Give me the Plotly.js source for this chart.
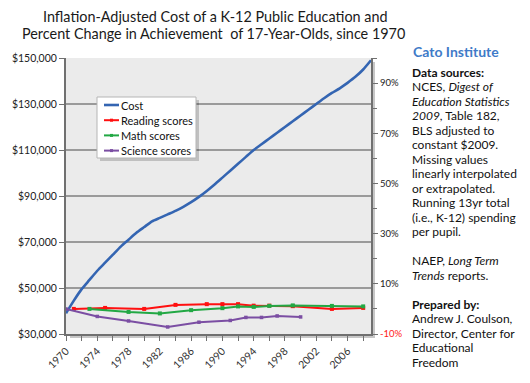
<!DOCTYPE html>
<html>
<head>
<meta charset="utf-8">
<script src="https://cdn.plot.ly/plotly-3.0.1.min.js"></script>
<style>html,body{margin:0;padding:0;background:#fff;}#chart{width:530px;height:383px;}</style>
</head>
<body>
<div id="chart"></div>
<script>
// ---- Data ----
const costYears = [1970,1971,1972,1973,1974,1975,1976,1977,1978,1979,1980,1981,1982,1983,1984,1985,1986,1987,1988,1989,1990,1991,1992,1993,1994,1995,1996,1997,1998,1999,2000,2001,2002,2003,2004,2005,2006,2007,2008,2009];
const costValues = [39000,44500,49500,53500,57500,61000,64500,68000,71000,74000,76500,79000,80500,82000,83500,85300,87300,89600,92200,95000,98000,101000,104000,107000,110000,112500,115000,117500,120000,122500,125000,127500,130000,132500,134800,136800,139200,141800,145000,149000];

const readingYears = [1971,1975,1980,1984,1988,1990,1992,1994,1996,1999,2004,2008];
const readingPct   = [0,0.4,0,1.6,1.9,1.9,1.9,1.3,1.3,1.1,0,0.4];

const mathYears = [1973,1978,1982,1986,1990,1992,1994,1996,1999,2004,2008];
const mathPct   = [0,-1.2,-1.8,-0.5,0.3,1.0,0.8,1.2,1.4,1.2,1.0];

const scienceYears = [1970,1974,1978,1983,1987,1991,1993,1995,1997,2000];
const sciencePct   = [0,-3.0,-4.8,-7.2,-5.3,-4.6,-3.4,-3.4,-2.8,-3.2];

const seriesNames = ["Cost","Reading scores","Math scores","Science scores"];
const seriesColors = ["#3465B2","#FF1010","#22A844","#7B4EA3"];

const xTickVals = [1970,1974,1978,1982,1986,1990,1994,1998,2002,2006];
const xTickText = ["1970","1974","1978","1982","1986","1990","1994","1998","2002","2006"];
const pctTickVals = [-10,10,30,50,70,90];
const pctTickText = ['<span style="fill:#ff2020">-10%</span>',"10%","30%","50%","70%","90%"];

const titleLines = ["Inflation-Adjusted Cost of a K-12 Public Education and","Percent Change in Achievement  of 17-Year-Olds, since 1970"];
const noteLines = [
  "<b>Data sources:</b>",
  "NCES, <i>Digest of</i>",
  "<i>Education Statistics</i>",
  "<i>2009</i>, Table 182,",
  "BLS adjusted to",
  "constant $2009.",
  "Missing values",
  "linearly interpolated",
  "or extrapolated.",
  "Running 13yr total",
  "(i.e., K-12) spending",
  "per pupil.",
  "",
  "NAEP, <i>Long Term</i>",
  "<i>Trends</i> reports.",
  "",
  "<b>Prepared by:</b>",
  "Andrew J. Coulson,",
  "Director, Center for",
  "Educational",
  "Freedom"
];

// ---- Layout geometry (pixels) ----
const W = 530, H = 383;
const L = 66, R = 371, T = 58, B = 334;
const pw = R - L, ph = B - T;
const px = v => (v - L) / pw;
const py = v => (B - v) / ph;

const FONT = "Lato, 'Open Sans', sans-serif";

const traces = [
  {x: costYears, y: costValues, name: seriesNames[0], type: "scatter", mode: "lines",
   line: {color: seriesColors[0], width: 2.6, shape: "spline", smoothing: 0.6}, yaxis: "y"},
  {x: readingYears, y: readingPct, name: seriesNames[1], type: "scatter", mode: "lines+markers",
   line: {color: seriesColors[1], width: 2}, marker: {symbol: "square", size: 4, color: seriesColors[1]}, yaxis: "y2"},
  {x: mathYears, y: mathPct, name: seriesNames[2], type: "scatter", mode: "lines+markers",
   line: {color: seriesColors[2], width: 2}, marker: {symbol: "square", size: 4, color: seriesColors[2]}, yaxis: "y2"},
  {x: scienceYears, y: sciencePct, name: seriesNames[3], type: "scatter", mode: "lines+markers",
   line: {color: seriesColors[3], width: 2}, marker: {symbol: "square", size: 3.5, color: seriesColors[3]}, yaxis: "y2"}
];

const annotations = [];
const shapes = [
  // plot-area shadow and background
  {type: "rect", xref: "paper", yref: "paper", layer: "below",
   x0: px(L + 4), x1: px(R + 4), y0: py(B + 4), y1: py(T + 4),
   fillcolor: "rgba(0,0,0,0.22)", line: {width: 0}},
  {type: "rect", xref: "paper", yref: "paper", layer: "below",
   x0: 0, x1: 1, y0: 0, y1: 1, fillcolor: "#EBEBEB", line: {width: 0}}
];

titleLines.forEach((t, i) => {
  annotations.push({text: t, xref: "paper", yref: "paper", x: px(i === 0 ? 215 : 213), y: py(16 + i * 17.6),
    xanchor: "center", yanchor: "middle", showarrow: false, borderpad: 0,
    font: {family: FONT, size: 14.4, color: "#1a1a1a"}});
});
annotations.push({text: "<b>Cato Institute</b>", xref: "paper", yref: "paper", x: px(411), y: py(51),
  xanchor: "left", yanchor: "middle", showarrow: false,
  font: {family: FONT, size: 14, color: "#3F7BC8"}});
noteLines.forEach((t, i) => {
  if (!t) return;
  annotations.push({text: t, xref: "paper", yref: "paper", x: px(411), y: py(72.3 + i * 14.5),
    xanchor: "left", yanchor: "middle", showarrow: false, borderpad: 0,
    font: {family: FONT, size: 12, color: "#111"}});
});

// ---- Legend box (drawn in the Excel style: compact) ----
const LG = {x0: 97, y0: 97, x1: 196, y1: 158, rowY: 105, rowH: 15.2, lineX0: 104, lineX1: 119, textX: 120};
shapes.push({type: "rect", xref: "paper", yref: "paper", layer: "above",
  x0: px(LG.x0 + 3), x1: px(LG.x1 + 3), y0: py(LG.y1 + 3), y1: py(LG.y0 + 3),
  fillcolor: "rgba(0,0,0,0.18)", line: {width: 0}});
shapes.push({type: "rect", xref: "paper", yref: "paper", layer: "above",
  x0: px(LG.x0), x1: px(LG.x1), y0: py(LG.y1), y1: py(LG.y0),
  fillcolor: "#ffffff", line: {color: "#b5b5b5", width: 1}});
seriesNames.forEach((n, i) => {
  const yy = LG.rowY + i * LG.rowH;
  shapes.push({type: "line", xref: "paper", yref: "paper", layer: "above",
    x0: px(LG.lineX0), x1: px(LG.lineX1), y0: py(yy), y1: py(yy),
    line: {color: seriesColors[i], width: i === 0 ? 2.6 : 2}});
  if (i > 0) {
    const mx = (LG.lineX0 + LG.lineX1) / 2;
    shapes.push({type: "rect", xref: "paper", yref: "paper", layer: "above",
      x0: px(mx - 1.5), x1: px(mx + 1.5), y0: py(yy + 1.5), y1: py(yy - 1.5),
      fillcolor: seriesColors[i], line: {width: 0}});
  }
  annotations.push({text: n, xref: "paper", yref: "paper", x: px(LG.textX), y: py(yy),
    xanchor: "left", yanchor: "middle", showarrow: false, borderpad: 0,
    font: {family: FONT, size: 11, color: "#111"}});
});

const layout = {
  width: W, height: H,
  margin: {l: L, r: W - R, t: T, b: H - B, pad: 0},
  paper_bgcolor: "#ffffff",
  plot_bgcolor: "rgba(0,0,0,0)",
  font: {family: FONT, color: "#222"},
  showlegend: false,
  xaxis: {range: [1970, 2009], tickvals: xTickVals, ticktext: xTickText, tickangle: -45,
    showgrid: false, zeroline: false, showline: true, linecolor: "#707070", linewidth: 2,
    ticks: "outside", ticklen: 5, tickcolor: "#707070", tickwidth: 1,
    minor: {dtick: 2, tick0: 1970, ticks: "outside", ticklen: 5, tickcolor: "#707070", showgrid: false},
    tickfont: {family: FONT, size: 10.5, color: "#333"}},
  yaxis: {range: [30000, 150000], tick0: 30000, dtick: 20000, tickformat: "$,d",
    showgrid: true, gridcolor: "#9a9a9a", gridwidth: 1.5, zeroline: false,
    showline: true, linecolor: "#707070", linewidth: 2,
    ticks: "outside", ticklen: 5, tickcolor: "#707070",
    tickfont: {family: FONT, size: 10.5, color: "#222"}},
  yaxis2: {range: [-10, 100], overlaying: "y", side: "right", tickvals: pctTickVals, ticktext: pctTickText,
    showgrid: false, zeroline: false, showline: true, linecolor: "#707070", linewidth: 2,
    ticks: "outside", ticklen: 5, tickcolor: "#707070",
    minor: {dtick: 10, tick0: -10, ticks: "outside", ticklen: 4, tickcolor: "#707070", showgrid: false},
    tickfont: {family: FONT, size: 9.5, color: "#222"}},
  shapes: shapes,
  annotations: annotations
};

Plotly.newPlot("chart", traces, layout, {displayModeBar: false, staticPlot: true});
</script>
</body>
</html>
